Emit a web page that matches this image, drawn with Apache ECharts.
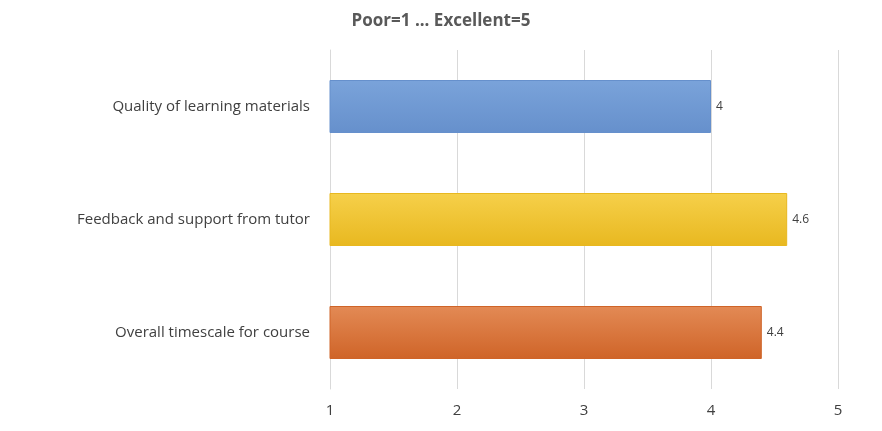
<!DOCTYPE html>
<html><head><meta charset="utf-8">
<script src="https://cdn.jsdelivr.net/npm/echarts@6/dist/echarts.min.js"></script>
<style>html,body{margin:0;padding:0;background:#fff}#c{width:882px;height:431px}</style>
</head><body><div id="c"></div>
<script>
const categories = ["Quality of learning materials","Feedback and support from tutor","Overall timescale for course"];
const values = [4, 4.6, 4.4];
const xTicks = [1,2,3,4,5];
const colors = [["#7aa3da","#6690cc"],["#f6d04a","#e8b820"],["#e38a55","#cf6428"]];
const chart = echarts.init(document.getElementById('c'));
chart.setOption({
  animation:false,
  title:{text:"Poor=1 ... Excellent=5",left:'center',top:8,textStyle:{fontFamily:'Open Sans',fontSize:17,fontWeight:'bold',color:'#595959'}},
  grid:{left:330,right:44,top:50,bottom:42,containLabel:false},
  xAxis:{type:'value',min:xTicks[0],max:xTicks[xTicks.length-1],interval:1,
    axisLine:{show:false},axisTick:{show:false},
    splitLine:{lineStyle:{color:'#d9d9d9'}},
    axisLabel:{fontFamily:'Open Sans',fontSize:15,color:'#404040',margin:14}},
  yAxis:{type:'category',data:categories,inverse:true,
    axisLine:{show:true,lineStyle:{color:'#d9d9d9'}},axisTick:{show:false},
    axisLabel:{fontFamily:'Open Sans',fontSize:15,color:'#404040',margin:20}},
  series:[{type:'bar',barWidth:53,
    data:values.map((v,i)=>({value:v,itemStyle:{color:new echarts.graphic.LinearGradient(0,0,0,1,[{offset:0,color:colors[i][0]},{offset:1,color:colors[i][1]}]),borderColor:colors[i][1],borderWidth:1}})),
    label:{show:true,position:'right',distance:5,fontFamily:'Open Sans',fontSize:12,color:'#404040'}}]
});
</script></body></html>
